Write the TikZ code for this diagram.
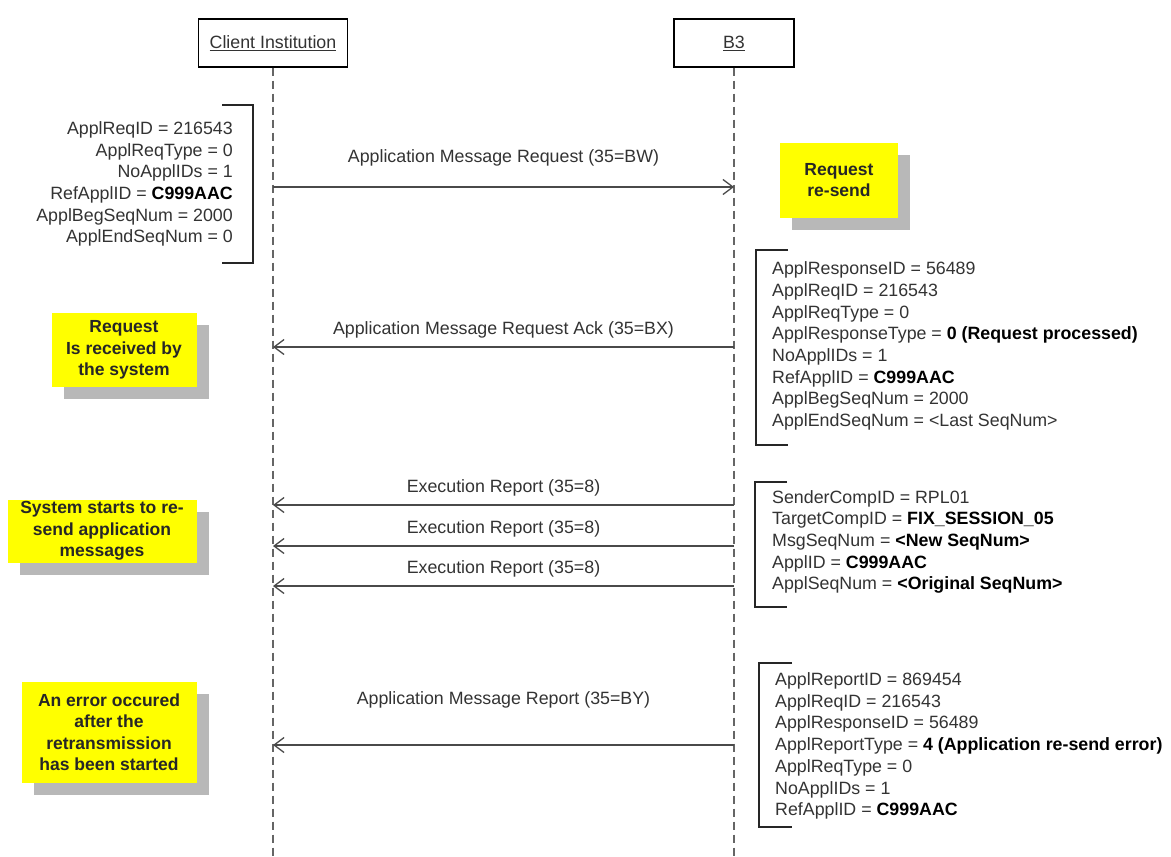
\documentclass[tikz,border=0pt]{standalone}
\usepackage{fontspec}
\setmainfont{Liberation Sans}
\usepackage{xcolor}
\usetikzlibrary{arrows.meta,shadows}
\definecolor{txtgray}{HTML}{333333}
\definecolor{linegray}{HTML}{4A4A4A}
\definecolor{noteyellow}{HTML}{FFFF00}
\newcommand{\boldval}[1]{{\color{black}\bfseries #1}}

\begin{document}
\begin{tikzpicture}[x=1pt, y=1pt,
    actor/.style={draw, line width=1.2pt, minimum height=48pt, inner sep=0pt,
                  font=\fontsize{17.8}{21.5}\selectfont, text=txtgray},
    life/.style={draw=linegray!85, line width=2pt, dash pattern=on 8pt off 5pt},
    msg/.style={draw=linegray, line width=1.3pt, -{Straight Barb[length=10pt,width=15pt]}},
    lbl/.style={font=\fontsize{17.8}{21.5}\selectfont, text=txtgray, inner sep=0pt},
    params/.style={font=\fontsize{17.8}{21.7}\selectfont, text=txtgray, inner sep=0pt},
    brk/.style={draw=black!85, line width=1.4pt},
    note/.style={fill=noteyellow, align=center, inner sep=0pt, text=black!85,
                 font=\fontsize{17.5}{21.5}\selectfont\bfseries,
                 drop shadow={shadow xshift=12pt, shadow yshift=-12pt, fill=black!28, opacity=1}}
]
\useasboundingbox[fill=white] (0,0) rectangle (1171,-857);

\node[actor, minimum width=149pt] (client) at (273,-43) {\underline{Client Institution}};
\node[actor, minimum width=120pt] (bthree) at (734,-43) {\underline{B3}};
\coordinate (clientend) at (273,-857);
\coordinate (bthreeend) at (734,-857);
\draw[life] (client) -- (clientend);
\draw[life] (bthree) -- (bthreeend);

\coordinate (c1) at (273,-187); \coordinate (b1) at (734,-187);
\coordinate (c2) at (273,-347); \coordinate (b2) at (734,-347);
\coordinate (c3) at (273,-505); \coordinate (b3) at (734,-505);
\coordinate (c4) at (273,-546); \coordinate (b4) at (734,-546);
\coordinate (c5) at (273,-586); \coordinate (b5) at (734,-586);
\coordinate (c6) at (273,-745); \coordinate (b6) at (734,-745);

\draw[msg] (c1) -- node[lbl, yshift=29pt] {Application Message Request (35=BW)} (b1);
\draw[msg] (b2) -- node[lbl, yshift=17pt] {Application Message Request Ack (35=BX)} (c2);
\draw[msg] (b3) -- node[lbl, yshift=17pt] {Execution Report (35=8)} (c3);
\draw[msg] (b4) -- node[lbl, yshift=17pt] {Execution Report (35=8)} (c4);
\draw[msg] (b5) -- node[lbl, yshift=17pt] {Execution Report (35=8)} (c5);
\draw[msg] (b6) -- node[lbl, yshift=45pt] {Application Message Report (35=BY)} (c6);

\node[params, align=right, anchor=east] (reqparams) at (233,-184) {ApplReqID = 216543\\ApplReqType = 0\\NoApplIDs = 1\\
  RefApplID = \boldval{C999AAC}\\ApplBegSeqNum = 2000\\ApplEndSeqNum = 0};
\draw[brk] (222,-105) -- (253,-105) -- (253,-263) -- (222,-263);

\node[params, align=left, anchor=west] (ackparams) at (772,-346) {ApplResponseID = 56489\\ApplReqID = 216543\\ApplReqType = 0\\
  ApplResponseType = \boldval{0 (Request processed)}\\NoApplIDs = 1\\RefApplID = \boldval{C999AAC}\\
  ApplBegSeqNum = 2000\\ApplEndSeqNum = <Last SeqNum>};
\draw[brk] (788,-250) -- (756,-250) -- (756,-445) -- (788,-445);

\node[params, align=left, anchor=west] (execparams) at (772,-542) {SenderCompID = RPL01\\TargetCompID = \boldval{FIX\_SESSION\_05}\\
  MsgSeqNum = \boldval{<New SeqNum>}\\ApplID = \boldval{C999AAC}\\ApplSeqNum = \boldval{<Original SeqNum>}};
\draw[brk] (787,-482) -- (755,-482) -- (755,-607) -- (787,-607);

\node[params, align=left, anchor=west] (repparams) at (775,-746) {ApplReportID = 869454\\ApplReqID = 216543\\ApplResponseID = 56489\\
  ApplReportType = \boldval{4 (Application re-send error)}\\ApplReqType = 0\\NoApplIDs = 1\\RefApplID = \boldval{C999AAC}};
\draw[brk] (792,-663) -- (759,-663) -- (759,-827) -- (792,-827);

\node[note, minimum width=118pt, minimum height=75pt] (resend) at (839,-180) {Request\\re-send};
\node[note, minimum width=145pt, minimum height=74pt] (received) at (124,-350) {Request\\Is received by\\the system};
\node[note, minimum width=189pt, minimum height=63pt] (starts) at (102,-531) {System starts to re-\\send application\\messages};
\node[note, minimum width=175pt, minimum height=101pt] (error) at (109,-732) {An error occured\\after the\\retransmission\\has been started};
\end{tikzpicture}
\end{document}
